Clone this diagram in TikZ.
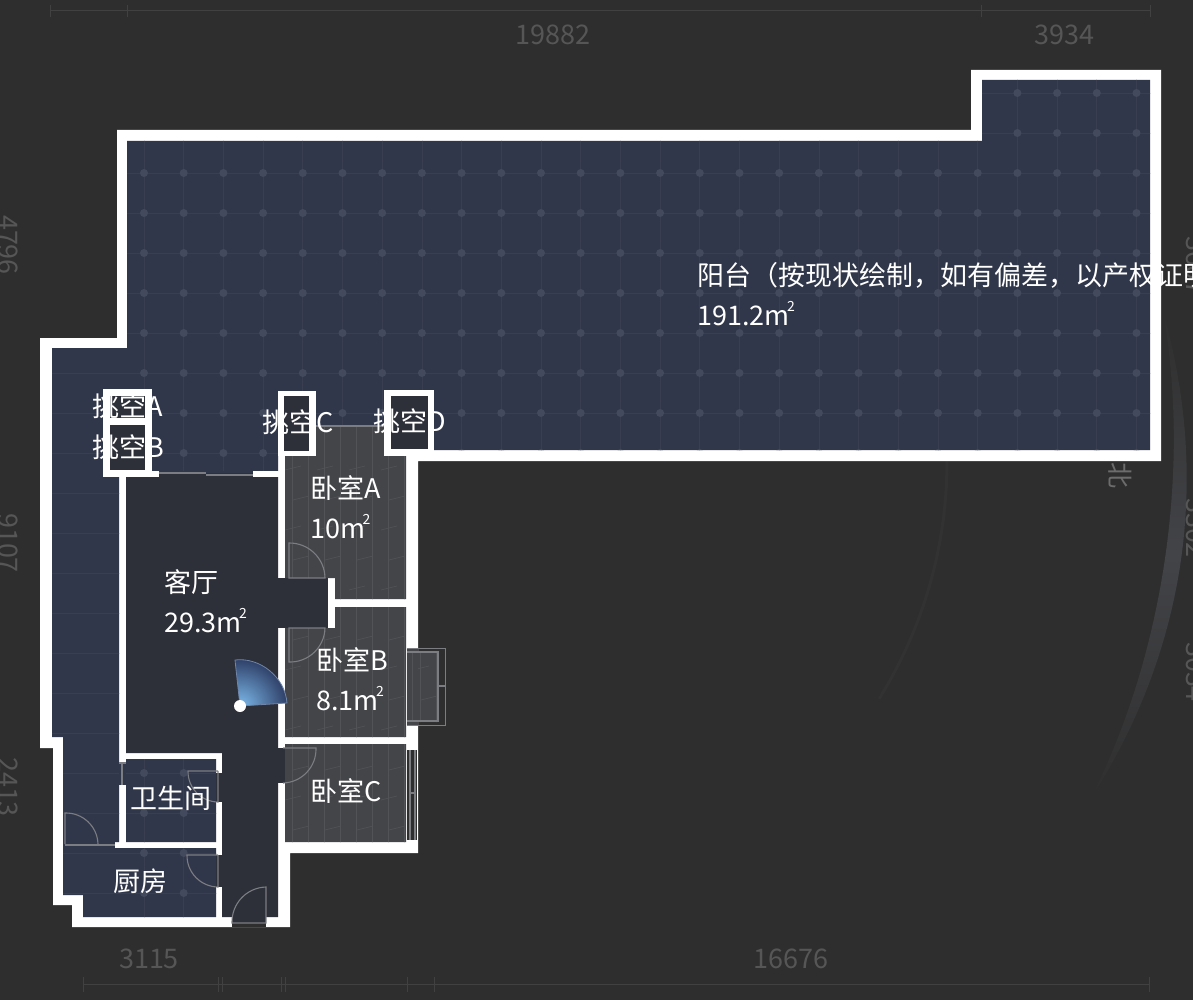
\documentclass[tikz,border=0pt]{standalone}
\usepackage{fontspec}
\setmainfont{Noto Sans CJK SC}
\definecolor{bgdark}{HTML}{2E2E2E}
\definecolor{ringfaint}{HTML}{323232}
\definecolor{floorblue}{HTML}{31374A}
\definecolor{floordark}{HTML}{2D2F39}
\definecolor{floorwood}{HTML}{444549}
\definecolor{woodline}{HTML}{525357}
\definecolor{gridline}{HTML}{393F51}
\definecolor{griddot}{HTML}{444A5D}
\definecolor{dimgray}{HTML}{565656}
\definecolor{northgray}{HTML}{6C6C6C}
\definecolor{dimrule}{HTML}{414141}
\definecolor{doorgray}{HTML}{7C7D82}
\definecolor{ringgray}{HTML}{434448}
\definecolor{fanlight}{HTML}{7DBAEC}
\definecolor{fandark}{HTML}{2F4068}
\definecolor{fanedge}{HTML}{6F84A6}
\newcommand{\sqm}{m\kern-2.5pt\raisebox{0.5em}{\fontsize{14}{14}\selectfont 2}}
\newcommand{\balconyarea}{(52,348) -- (127,348) -- (127,141) -- (982,141) -- (982,80) -- (1150,80) -- (1150,450) -- (384,450) -- (384,426) -- (278,426) -- (278,471) -- (119,471) -- (119,842) -- (63,842) -- (63,737) -- (52,737) -- cycle
  (63,848) -- (216,848) -- (216,917) -- (83,917) -- (83,895) -- (63,895) -- cycle
  (126,759) -- (216,759) -- (216,842) -- (126,842) -- cycle}
\newcommand{\bedroomarea}{(316,426) -- (384,426) -- (384,456) -- (406,456) -- (406,599) -- (335,599) -- (335,578) -- (285,578) -- (285,456) -- (316,456) -- cycle
  (335,607) -- (406,607) -- (406,737) -- (285,737) -- (285,628) -- (335,628) -- cycle
  (285,744) -- (406,744) -- (406,842) -- (285,842) -- cycle
  (407,651) -- (438,651) -- (438,722) -- (407,722) -- cycle}
\tikzset{
  wall/.style={fill=white},
  void/.style={fill=floordark},
  doorline/.style={draw=doorgray, line width=1.1pt},
  windowline/.style={draw=doorgray, line width=2.2pt},
  dimline/.style={draw=dimrule, line width=1pt},
  dimtext/.style={text=dimgray, inner sep=0pt, font=\fontsize{27}{30}\selectfont},
  roomtext/.style={text=white, inner sep=0pt, anchor=west, align=left, font=\fontsize{27}{40}\selectfont},
}
\begin{document}
\begin{tikzpicture}[x=1pt, y=-1pt]
  \useasboundingbox (0,0) rectangle (1193,1000);
  \clip (0,0) rectangle (1193,1000);
  \fill[bgdark] (0,0) rectangle (1193,1000);

  % Compass ring
  \draw[ringfaint, line width=3pt] plot[domain=-8:32, samples=30] ({500+447*cos(\x)},{462+447*sin(\x)});
  \shade[top color=bgdark, bottom color=bgdark, middle color=ringgray] plot[domain=-13:30, samples=40] ({500+(680+8*sin((\x+13)*180/43))*cos(\x)},{462+(680+8*sin((\x+13)*180/43))*sin(\x)})
    -- plot[domain=30:-13, samples=40] ({500+(680-8*sin((\x+13)*180/43))*cos(\x)},{462+(680-8*sin((\x+13)*180/43))*sin(\x)}) -- cycle;

  % Dimension rules
  \coordinate (topl) at (50,11);
  \coordinate (topr) at (1150,11);
  \coordinate (botl) at (83,984);
  \coordinate (botr) at (1149,984);
  \draw[dimline] (topl) -- (topr);
  \draw[dimline] (botl) -- (botr);
  \foreach \x in {50,127,981,1150} \draw[dimline] (\x,5) -- (\x,17);
  \foreach \x in {83,218,222,281,285,407,434,1149} \draw[dimline] (\x,977) -- (\x,992);

  % Dimension numbers
  \node[dimtext] (dimtopa) at (553,35) {19882};
  \node[dimtext] (dimtopb) at (1064,35) {3934};
  \node[dimtext] (dimbota) at (149,959) {3115};
  \node[dimtext] (dimbotb) at (791,959) {16676};
  \node[dimtext, rotate=-90] (dimlefta) at (8,245) {4796};
  \node[dimtext, rotate=-90] (dimleftb) at (8,543) {9107};
  \node[dimtext, rotate=-90] (dimleftc) at (8,787) {2413};
  \node[dimtext, rotate=-90] (dimrighta) at (1196,266) {3607};
  \node[dimtext, rotate=-90] (dimrightb) at (1196,528) {3302};
  \node[dimtext, rotate=-90] (dimrightc) at (1196,672) {3034};
  \node[dimtext, text=northgray, rotate=-90, font=\fontsize{26}{30}\selectfont] (north) at (1120,475) {北};

  % Outer wall
  \fill[wall] (117,130) -- (971,130) -- (971,70) -- (1161,70) -- (1161,461) -- (418,461) -- (418,853)
    -- (290,853) -- (290,927) -- (72,927) -- (72,905) -- (53,905) -- (53,748) -- (40,748) -- (40,338) -- (117,338) -- cycle;

  % Floors
  \fill[floorblue] \balconyarea;
  \begin{scope}
    \clip \balconyarea;
    \foreach \k in {0,...,25} {
      \draw[gridline, line width=0.8pt] ({144+39.7*\k},60) -- ({144+39.7*\k},930);
    }
    \foreach \k in {0,...,20} {
      \draw[gridline, line width=0.8pt] (40,{93+40*\k}) -- (1160,{93+40*\k});
    }
    \foreach \k in {0,...,25} {
      \foreach \j in {0,...,20} {
        \fill[griddot] ({144+39.7*\k},{93+40*\j}) circle (4);
      }
    }
  \end{scope}
  \fill[void] (126,477) -- (278,477) -- (278,917) -- (222,917) -- (222,753) -- (126,753) -- cycle;
  \fill[void] (285,578) rectangle (328,628);
  \fill[floorwood] \bedroomarea;
  \begin{scope}
    \clip \bedroomarea;
    \foreach \x in {292,308,...,440} {
      \draw[woodline, line width=0.8pt] (\x,420) -- (\x,850);
    }
    \foreach \y/\s in {470/0,500/8,530/0,560/8,590/0,640/8,670/0,700/8,730/0,770/8,800/0,830/8} {
      \foreach \x in {285,317,...,413} {
        \draw[woodline, line width=0.7pt] ({\x+\s},\y) -- ({\x+\s+16},{\y-4});
      }
    }
  \end{scope}

  % Light wells
  \fill[wall] (103,389) rectangle (152,477);
  \fill[void] (110,396) rectangle (145,418);
  \fill[void] (110,425) rectangle (145,470);
  \fill[wall] (278,391) rectangle (316,456);
  \fill[void] (284,396) rectangle (309,451);
  \fill[wall] (384,390) rectangle (434,456);
  \fill[void] (391,396) rectangle (428,449);

  % Living room wall and windows
  \fill[wall] (152,471) rectangle (278,477);
  \fill[void] (159,473) rectangle (253,477);
  \fill[floorblue] (159,471) rectangle (253,473);
  \draw[windowline] (159,473) -- (206,473);
  \draw[windowline] (206,475) -- (253,475);
  \draw[windowline] (316,426) -- (384,426);
  \fill[bgdark] (407,750) rectangle (417,840);
  \draw[doorline] (410,750) -- (410,840);
  \draw[doorline] (415,750) -- (415,840);
  \draw[doorline] (410,793) -- (415,793);

  % Bay window
  \fill[floorwood] (407,648) rectangle (418,725);
  \begin{scope}
    \clip \bedroomarea;
    \draw[woodline, line width=0.8pt] (412,640) -- (412,730);
  \end{scope}
  \draw[doorgray, line width=0.8pt] (407,648) -- (445,648) -- (445,725) -- (407,725);
  \draw[doorgray, line width=1.6pt] (407,652) -- (438,652) -- (438,721) -- (407,721);
  \draw[doorline] (438,686) -- (445,686);

  % Door openings
  \fill[void] (278,628) rectangle (285,578);
  \fill[void] (278,748) rectangle (285,783);
  \fill[void] (216,773) rectangle (222,802);
  \fill[void] (216,855) rectangle (222,887);
  \fill[floorblue] (119,763) rectangle (126,785);
  \fill[floorblue] (63,842) rectangle (115,848);
  \fill[void] (232,917) rectangle (266,923);
  \fill[bgdark] (232,923) rectangle (266,927);
  \draw[doorline] (119,763) -- (126,763);
  \draw[doorline] (122,763) -- (122,785);

  % Doors
  \draw[doorline] (289,578) -- (289,543) to[bend left=45] (325,578) -- cycle;
  \draw[doorline] (289,628) -- (289,662) to[bend right=45] (325,628) -- cycle;
  \draw[doorline] (283,748) -- (316,748) to[bend left=45] (283,783);
  \draw[doorline] (218,771) -- (188,771) to[bend right=45] (218,802) -- (218,771);
  \draw[doorline] (218,855) -- (187,855) to[bend right=45] (218,887) -- (218,855);
  \draw[doorline] (65,844) -- (65,813) to[bend left=45] (98,844);
  \draw[doorline] (65,845) -- (115,845);
  \draw[doorline] (266,923) -- (266,887) to[bend right=45] (232,923) -- cycle;

  % View fan
  \begin{scope}
    \clip (240,706) -- (235,660) .. controls (260,657) and (285,677) .. (287,703) -- cycle;
    \shade[inner color=fanlight, outer color=fandark] (240,706) circle (47);
  \end{scope}
  \draw[fanedge, line width=0.8pt] (240,706) -- (235,660) .. controls (260,657) and (285,677) .. (287,703) -- cycle;
  \fill[white] (240,706) circle (6);

  % Room labels
  \node[roomtext] (balcony) at (697,294) {阳台（按现状绘制，如有偏差，以产权证明\\191.2\sqm};
  \node[roomtext] (living) at (164,601) {客厅\\29.3\sqm};
  \node[roomtext] (bedrooma) at (310,507) {卧室A\\10\sqm};
  \node[roomtext] (bedroomb) at (316,679) {卧室B\\8.1\sqm};
  \node[roomtext] (bedroomc) at (310,791) {卧室C};
  \node[roomtext] (bath) at (130,798) {卫生间};
  \node[roomtext] (kitchen) at (113,881) {厨房};
  \node[roomtext] (voida) at (92,406) {挑空A};
  \node[roomtext] (voidb) at (92,447) {挑空B};
  \node[roomtext] (voidc) at (262,422) {挑空C};
  \node[roomtext] (voidd) at (373,421) {挑空D};
\end{tikzpicture}
\end{document}
